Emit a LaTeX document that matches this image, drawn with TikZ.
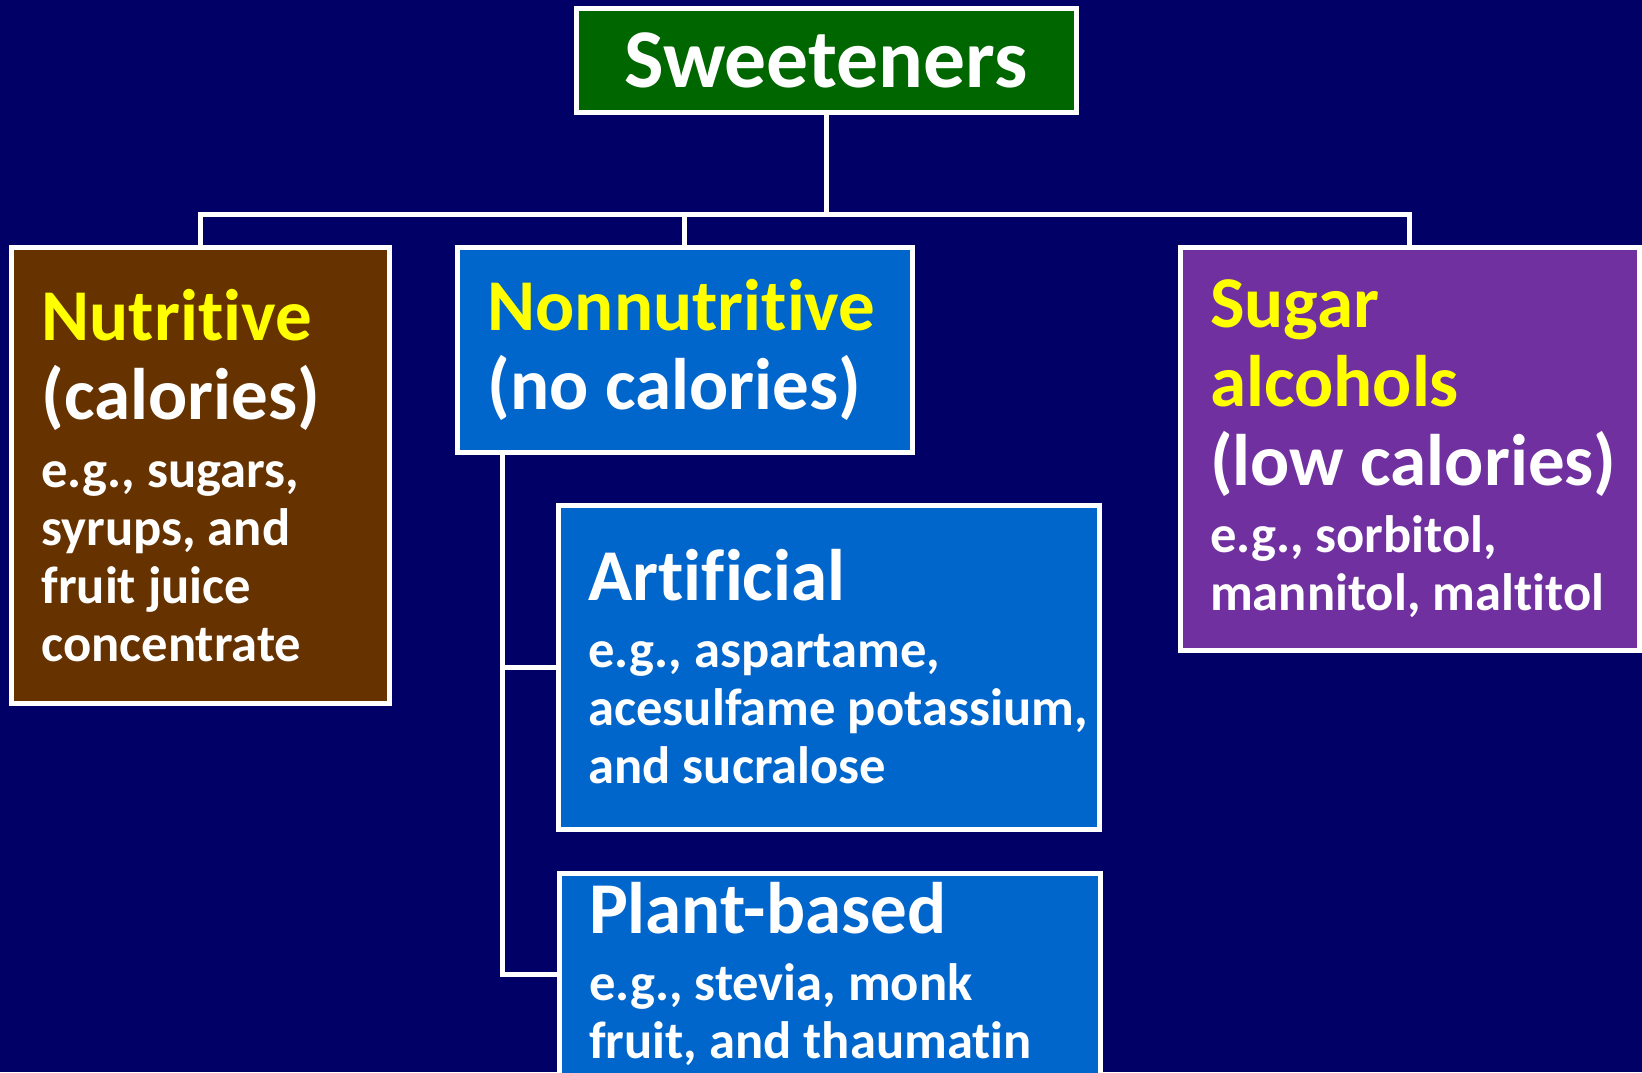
\documentclass[tikz,border=0pt]{standalone}
\usepackage{fontspec}
\setmainfont{Carlito}[Ligatures=NoCommon]
\definecolor{bgNavy}{RGB}{0,0,102}
\definecolor{rootGreen}{RGB}{0,102,0}
\definecolor{nutriBrown}{RGB}{102,51,0}
\definecolor{nonBlue}{RGB}{0,102,204}
\definecolor{alcPurple}{RGB}{112,48,160}
\definecolor{hiYellow}{RGB}{255,255,0}
\newcommand{\rootsize}{\fontsize{41.8pt}{46pt}\selectfont}
\newcommand{\headsize}{\fontsize{36.5pt}{39.5pt}\selectfont\spaceskip=0pt\xspaceskip=0pt}
\newcommand{\bodysize}{\fontsize{26.3pt}{29pt}\selectfont\spaceskip=0pt\xspaceskip=0pt}
\setlength{\parindent}{0pt}
\tikzset{
  catbox/.style={draw=white, line width=2.5pt, outer sep=0pt,
    inner xsep=15pt, inner ysep=0pt, anchor=north west,
    align=left, text=white, font=\bfseries},
  rootbox/.style={draw=white, line width=2.5pt, outer sep=0pt,
    fill=rootGreen, text=white, font=\rootsize\bfseries,
    minimum width=250pt, minimum height=52pt},
  linkln/.style={draw=white, line width=2.5pt},
}

\begin{document}
\begin{tikzpicture}[x=0.5pt, y=-0.5pt]
  \useasboundingbox (0,0) rectangle (1642,1072);
  \clip (0,0) rectangle (1642,1072);
  \fill[bgNavy] (0,0) rectangle (1642,1072);
  % --- root ---
  \node[rootbox] (sweet) at (826,60) {Sweeteners};
  % --- first level ---
  \node[catbox, fill=nutriBrown, text width=158.75pt, minimum height=227.75pt] (nutri) at (11.5,247.5)
    {{\headsize\color{hiYellow}Nutritive\\\color{white}(calories)\par}\vspace{5pt}%
     {\bodysize e.g., sugars,\\ syrups, and\\ fruit juice\\ concentrate\par}};
  \node[catbox, fill=nonBlue, text width=197.25pt, minimum height=102.5pt] (nonnut) at (457.5,247.5)
    {{\headsize\color{hiYellow}Nonnutritive\\\color{white}(no calories)\par}};
  \node[catbox, fill=alcPurple, text width=199.75pt, minimum height=201.25pt] (sugar) at (1180,247.5)
    {{\headsize\color{hiYellow}Sugar\\ alcohols\\\color{white}\mbox{(low calories)}\par}\vspace{4.5pt}%
     {\bodysize e.g., sorbitol,\\ mannitol, maltitol\par}};
  % --- nonnutritive kinds ---
  \node[catbox, fill=nonBlue, text width=240.5pt, minimum height=162pt] (artif) at (558.5,505)
    {{\headsize Artificial\par}\vspace{4.5pt}%
     {\bodysize e.g., aspartame,\\ \mbox{acesulfame potassium,}\\ and sucralose\par}};
  \node[catbox, fill=nonBlue, text width=240.5pt, minimum height=101pt] (plant) at (559,873)
    {{\headsize Plant-based\par}\vspace{4.5pt}%
     {\bodysize e.g., stevia, monk\\ fruit, and thaumatin\par}};
  % connectors
  \coordinate (bus) at (826,214);
  \coordinate (trunk) at (502.5,452.5);
  \draw[linkln] (sweet.south) -- (bus);
  \draw[linkln] (nutri.north) |- (bus) -| (sugar.north);
  \draw[linkln] (nonnut.north) -- (nonnut.north |- bus);
  \draw[linkln] (trunk) |- (plant.west);
  \draw[linkln] (trunk |- artif.west) -- (artif.west);
\end{tikzpicture}
\end{document}
